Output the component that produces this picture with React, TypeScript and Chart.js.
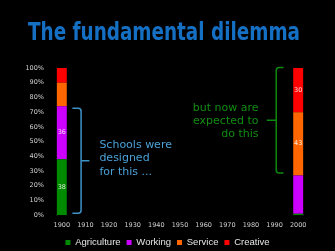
import React, { useEffect, useRef } from "react";
import { Chart, registerables } from "chart.js";

Chart.register(...registerables);

// ---- data ----
const years = ["1900", "1910", "1920", "1930", "1940", "1950", "1960", "1970", "1980", "1990", "2000"];
const agriculture = [38, 0, 0, 0, 0, 0, 0, 0, 0, 0, 1];
const working = [36, 0, 0, 0, 0, 0, 0, 0, 0, 0, 26];
const service = [16, 0, 0, 0, 0, 0, 0, 0, 0, 0, 43];
const creative = [10, 0, 0, 0, 0, 0, 0, 0, 0, 0, 30];
const seriesNames = ["Agriculture", "Working", "Service", "Creative"];
const seriesColors = ["#008a00", "#cc00ff", "#ff6600", "#ff0000"];

const titleText = "The fundamental dilemma";
const leftNote = ["Schools were", "designed", "for this ..."];
const rightNote = ["but now are", "expected to", "do this"];
// which segments carry a value label
const labelledSegments: [string, string][] = [
  ["Agriculture", "1900"],
  ["Working", "1900"],
  ["Service", "2000"],
  ["Creative", "2000"],
];
// bracket groups: [year, bottom series, top series]
const leftBracket: [string, string, string] = ["1900", "Agriculture", "Working"];
const rightBracket: [string, string, string] = ["2000", "Service", "Creative"];

function getBar(chart: any, series: string, year: string) {
  const di = chart.data.datasets.findIndex((d: any) => d.label === series);
  const idx = chart.data.labels.indexOf(year);
  return chart.getDatasetMeta(di).data[idx].getProps(["x", "y", "base", "width"], true);
}

function drawBracket(ctx: CanvasRenderingContext2D, endX: number, vX: number, tipX: number, top: number, bottom: number, color: string) {
  const mid = (top + bottom) / 2;
  const dir = Math.sign(vX - endX);
  const r = 3;
  ctx.save();
  ctx.strokeStyle = color;
  ctx.lineWidth = 1.5;
  ctx.beginPath();
  ctx.moveTo(endX, top);
  ctx.lineTo(vX - dir * r, top);
  ctx.quadraticCurveTo(vX, top, vX, top + r);
  ctx.lineTo(vX, bottom - r);
  ctx.quadraticCurveTo(vX, bottom, vX - dir * r, bottom);
  ctx.lineTo(endX, bottom);
  ctx.moveTo(vX, mid);
  ctx.lineTo(tipX, mid);
  ctx.stroke();
  ctx.restore();
}

const decorPlugin = {
  id: "decor",
  beforeDraw(chart: any) {
    const ctx = chart.ctx;
    ctx.save();
    ctx.fillStyle = "#000";
    ctx.fillRect(0, 0, chart.width, chart.height);
    ctx.restore();
  },
  afterDatasetsDraw(chart: any) {
    const ctx: CanvasRenderingContext2D = chart.ctx;

    // value labels
    ctx.save();
    ctx.font = "6.5px 'DejaVu Sans'";
    ctx.fillStyle = "rgba(255,255,255,0.85)";
    ctx.textAlign = "center";
    ctx.textBaseline = "middle";
    labelledSegments.forEach(([s, yr]) => {
      const di = chart.data.datasets.findIndex((d: any) => d.label === s);
      const idx = chart.data.labels.indexOf(yr);
      const v = chart.data.datasets[di].data[idx];
      const b = getBar(chart, s, yr);
      ctx.fillText(String(v), b.x, (b.y + b.base) / 2);
    });
    ctx.restore();

    // left bracket + note
    {
      const lo = getBar(chart, leftBracket[1], leftBracket[0]);
      const hi = getBar(chart, leftBracket[2], leftBracket[0]);
      const barRight = lo.x + lo.width / 2;
      const top = hi.y + 2;
      const bottom = lo.base - 2;
      const tipX = barRight + 22.6;
      drawBracket(ctx, barRight + 5.6, barRight + 14.3, tipX, top, bottom, "#3d92c8");
      const mid = (top + bottom) / 2;
      ctx.save();
      ctx.font = "11px 'DejaVu Sans'";
      ctx.fillStyle = "#4aa0d6";
      ctx.textAlign = "left";
      ctx.textBaseline = "middle";
      leftNote.forEach((t, i) => ctx.fillText(t, tipX + 10, mid - 2.4 + (i - 1) * 13.4));
      ctx.restore();
    }
    // right bracket + note
    {
      const lo = getBar(chart, rightBracket[1], rightBracket[0]);
      const hi = getBar(chart, rightBracket[2], rightBracket[0]);
      const barLeft = lo.x - lo.width / 2;
      const top = hi.y - 0.5;
      const bottom = lo.base - 2.5;
      const tipX = barLeft - 26.4;
      drawBracket(ctx, barLeft - 9.7, barLeft - 17, tipX, top, bottom, "#0e8a0e");
      const mid = (top + bottom) / 2;
      ctx.save();
      ctx.font = "11px 'DejaVu Sans'";
      ctx.fillStyle = "#128c12";
      ctx.textAlign = "right";
      ctx.textBaseline = "middle";
      rightNote.forEach((t, i) => ctx.fillText(t, tipX - 8.3, mid + 1 + (i - 1) * 13.4));
      ctx.restore();
    }
  },
  afterDraw(chart: any) {
    const ctx: CanvasRenderingContext2D = chart.ctx;
    ctx.save();
    ctx.font = "bold 24px 'DejaVu Sans Condensed', 'DejaVu Sans'";
    const w = ctx.measureText(titleText).width;
    const targetW = 272;
    ctx.translate(28, 39.5);
    ctx.scale(targetW / w, 1);
    ctx.fillStyle = "#1570c4";
    ctx.textAlign = "left";
    ctx.textBaseline = "alphabetic";
    ctx.fillText(titleText, 0, 0);
    ctx.restore();
  },
};

export default function App() {
  const ref = useRef<HTMLCanvasElement | null>(null);
  useEffect(() => {
    document.body.style.margin = "0";
    document.body.style.background = "#000";
    const seriesData = [agriculture, working, service, creative];
    const chart = new Chart(ref.current as HTMLCanvasElement, {
      type: "bar",
      data: {
        labels: years,
        datasets: seriesNames.map((name, i) => ({
          label: name,
          data: seriesData[i],
          backgroundColor: seriesColors[i],
          borderWidth: 0,
          barPercentage: 0.42,
          categoryPercentage: 1,
        })),
      },
      options: {
        responsive: false,
        animation: false,
        devicePixelRatio: 1,
        layout: { padding: { top: 68, left: 0, right: 0, bottom: -6.2 } },
        plugins: {
          title: { display: false },
          tooltip: { enabled: false },
          legend: {
            display: true,
            position: "bottom",
            labels: {
              boxWidth: 5,
              boxHeight: 5,
              padding: 6,
              color: "#e6e6e6",
              font: { family: "'Liberation Sans', Arial, sans-serif", size: 9.5 },
            },
          },
        },
        scales: {
          x: {
            stacked: true,
            grid: { display: false, drawTicks: false },
            border: { display: false },
            ticks: {
              color: "#d0d0d0",
              font: { family: "'DejaVu Sans'", size: 6.5 },
              padding: 6,
              maxRotation: 0,
              autoSkip: false,
            },
            afterFit: (s: any) => {
              s.height = 16.5;
            },
          },
          y: {
            stacked: true,
            min: 0,
            max: 100,
            grid: { display: false, drawTicks: false },
            border: { display: false },
            ticks: {
              stepSize: 10,
              color: "#d0d0d0",
              font: { family: "'DejaVu Sans'", size: 6.5 },
              padding: 6,
              callback: (v: any) => v + "%",
            },
            afterFit: (s: any) => {
              s.width = 50;
            },
          },
          yRight: {
            position: "right",
            display: true,
            grid: { display: false, drawTicks: false },
            border: { display: false },
            ticks: { display: false },
            afterFit: (s: any) => {
              s.width = 25;
            },
          },
        },
      },
      plugins: [decorPlugin],
    });
    return () => chart.destroy();
  }, []);
  return (
    <div style={{ position: "fixed", left: 0, top: 0, width: 335, height: 251, background: "#000" }}>
      <canvas ref={ref} width={335} height={251} style={{ display: "block" }} />
    </div>
  );
}
